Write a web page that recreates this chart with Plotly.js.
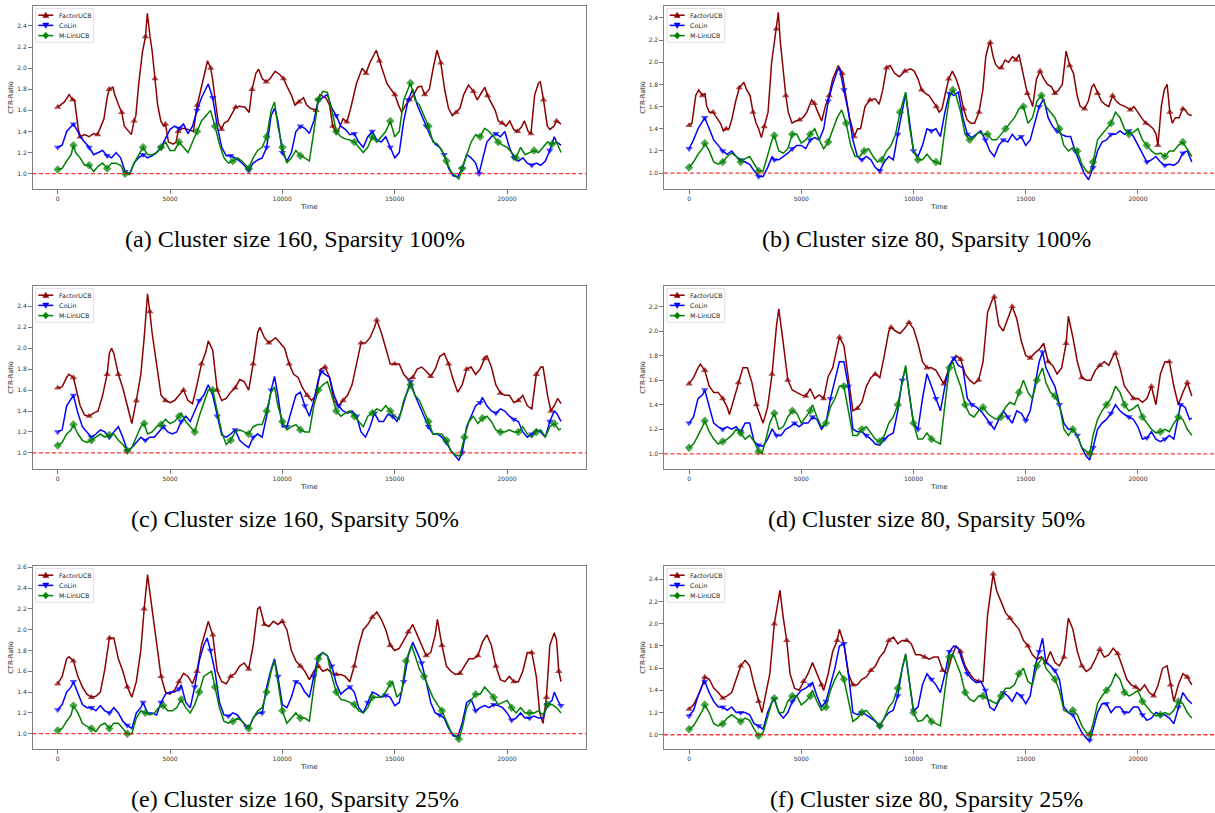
<!DOCTYPE html>
<html><head><meta charset="utf-8">
<script src="https://cdn.plot.ly/plotly-3.0.1.min.js"></script>
<style>html,body{margin:0;padding:0;background:#fff}#chart{width:1215px;height:813px}</style>
</head><body><div id="chart"></div>
<script>
const seriesNames = ['FactorUCB', 'CoLin', 'M-LinUCB'];
const captions = ['(a) Cluster size 160, Sparsity 100%', '(b) Cluster size 80, Sparsity 100%',
  '(c) Cluster size 160, Sparsity 50%', '(d) Cluster size 80, Sparsity 50%',
  '(e) Cluster size 160, Sparsity 25%', '(f) Cluster size 80, Sparsity 25%'];
const xTickVals = [0, 5000, 10000, 15000, 20000];
const xTickText = ['0', '5000', '10000', '15000', '20000'];
const xAxisTitle = 'Time';
const yAxisTitle = 'CTR-Ratio';
const baseline = 1.0;

// ---- (a) Cluster 160, Sparsity 100% ----
const aFactor = [[0,1.63],[130,1.65],[300,1.68],[510,1.75],[665,1.70],[750,1.70],[835,1.55],[920,1.42],[1000,1.35],[1200,1.37],[1400,1.35],[1600,1.38],[1775,1.37],[1945,1.45],[2060,1.52],[2200,1.72],[2290,1.80],[2460,1.82],[2540,1.75],[2710,1.65],[2850,1.58],[2970,1.45],[3140,1.40],[3280,1.37],[3400,1.50],[3480,1.55],[3600,1.84],[3770,2.15],[3910,2.30],[3990,2.52],[4110,2.30],[4200,2.17],[4330,1.90],[4450,1.65],[4590,1.50],[4730,1.45],[4800,1.47],[4930,1.30],[5140,1.28],[5270,1.30],[5360,1.40],[5550,1.43],[5800,1.42],[6040,1.40],[6210,1.65],[6380,1.80],[6550,1.95],[6670,2.07],[6810,2.00],[6890,1.90],[7010,1.70],[7150,1.48],[7290,1.42],[7410,1.48],[7580,1.50],[7750,1.57],[7920,1.63],[8090,1.64],[8340,1.63],[8520,1.58],[8650,1.80],[8820,1.95],[8940,1.99],[9110,1.90],[9280,1.87],[9450,1.90],[9680,1.97],[9880,1.94],[10050,1.90],[10220,1.82],[10390,1.75],[10560,1.65],[10740,1.68],[10940,1.72],[11080,1.65],[11250,1.62],[11500,1.60],[11670,1.75],[11930,1.72],[12100,1.65],[12240,1.45],[12410,1.38],[12530,1.43],[12700,1.52],[12870,1.49],[13040,1.62],[13290,1.85],[13550,2.00],[13720,1.95],[13890,2.05],[14060,2.12],[14180,2.17],[14320,2.07],[14450,1.98],[14660,1.85],[14830,1.80],[15000,1.75],[15170,1.65],[15310,1.58],[15480,1.65],[15650,1.70],[15850,1.75],[16020,1.82],[16190,1.83],[16330,1.75],[16540,1.80],[16710,2.00],[16880,2.17],[17050,2.05],[17220,1.80],[17390,1.62],[17560,1.55],[17730,1.58],[17900,1.62],[18070,1.75],[18280,1.84],[18500,1.78],[18670,1.70],[18840,1.76],[19010,1.82],[19130,1.74],[19270,1.68],[19470,1.60],[19610,1.50],[19780,1.48],[19950,1.45],[20120,1.50],[20290,1.42],[20460,1.40],[20630,1.44],[20770,1.50],[20940,1.40],[21060,1.38],[21230,1.75],[21400,1.86],[21480,1.87],[21620,1.70],[21790,1.45],[21910,1.42],[22080,1.45],[22200,1.50],[22400,1.47]];
const aCoLin = [[0,1.25],[200,1.27],[400,1.40],[600,1.45],[700,1.47],[900,1.40],[1000,1.35],[1200,1.30],[1400,1.25],[1600,1.18],[1800,1.20],[2000,1.22],[2200,1.17],[2400,1.15],[2600,1.20],[2800,1.15],[3000,1.02],[3200,1.00],[3400,1.10],[3600,1.15],[3800,1.18],[4000,1.15],[4200,1.17],[4400,1.20],[4600,1.25],[4800,1.33],[5000,1.42],[5200,1.45],[5400,1.43],[5600,1.47],[5800,1.38],[6000,1.45],[6200,1.60],[6400,1.72],[6600,1.80],[6700,1.85],[6900,1.72],[7100,1.45],[7300,1.25],[7500,1.17],[7700,1.17],[7900,1.15],[8100,1.12],[8300,1.08],[8500,1.03],[8700,1.10],[8900,1.13],[9100,1.15],[9300,1.25],[9500,1.55],[9650,1.62],[9800,1.50],[10000,1.20],[10200,1.12],[10400,1.20],[10600,1.40],[10800,1.45],[11000,1.43],[11200,1.38],[11400,1.50],[11600,1.70],[11800,1.72],[12000,1.75],[12200,1.62],[12400,1.55],[12600,1.45],[12800,1.42],[13000,1.37],[13200,1.38],[13400,1.30],[13600,1.25],[13800,1.35],[14000,1.40],[14200,1.32],[14400,1.30],[14600,1.35],[14800,1.25],[15000,1.15],[15200,1.20],[15400,1.50],[15600,1.70],[15800,1.80],[16000,1.65],[16200,1.55],[16400,1.45],[16600,1.35],[16800,1.28],[17000,1.25],[17200,1.18],[17400,1.05],[17600,0.98],[17800,0.97],[18000,1.05],[18200,1.18],[18400,1.15],[18600,1.10],[18750,1.00],[18900,1.12],[19100,1.30],[19300,1.35],[19500,1.38],[19700,1.35],[19900,1.40],[20100,1.25],[20300,1.15],[20500,1.12],[20700,1.15],[20900,1.10],[21100,1.08],[21300,1.10],[21500,1.08],[21700,1.12],[21900,1.22],[22100,1.35],[22200,1.30],[22400,1.27]];
const aMLin = [[0,1.04],[200,1.05],[400,1.12],[600,1.18],[700,1.27],[800,1.20],[1000,1.15],[1200,1.08],[1400,1.08],[1600,1.02],[1800,1.07],[2000,1.10],[2200,1.05],[2400,1.10],[2600,1.10],[2800,1.08],[3000,1.00],[3200,0.99],[3400,1.10],[3600,1.18],[3800,1.25],[4000,1.18],[4200,1.18],[4400,1.20],[4600,1.25],[4800,1.30],[5000,1.22],[5200,1.22],[5400,1.30],[5600,1.25],[5800,1.20],[6000,1.30],[6200,1.40],[6400,1.50],[6600,1.55],[6800,1.60],[7000,1.45],[7200,1.28],[7400,1.15],[7600,1.10],[7800,1.12],[8000,1.15],[8200,1.12],[8400,1.07],[8500,1.05],[8700,1.15],[8900,1.22],[9100,1.25],[9300,1.35],[9500,1.60],[9650,1.68],[9800,1.45],[10000,1.25],[10200,1.10],[10400,1.15],[10600,1.22],[10800,1.17],[11000,1.15],[11200,1.12],[11400,1.40],[11600,1.70],[11800,1.78],[12000,1.77],[12200,1.60],[12400,1.40],[12600,1.35],[12800,1.33],[13000,1.32],[13200,1.30],[13400,1.25],[13600,1.20],[13800,1.25],[14000,1.35],[14200,1.30],[14400,1.35],[14600,1.40],[14800,1.50],[15000,1.35],[15200,1.40],[15400,1.70],[15700,1.86],[15900,1.70],[16100,1.65],[16300,1.55],[16500,1.45],[16700,1.30],[16900,1.28],[17100,1.22],[17300,1.12],[17500,1.02],[17700,0.98],[17850,0.95],[18000,1.05],[18200,1.18],[18400,1.30],[18600,1.37],[18800,1.35],[19000,1.43],[19200,1.40],[19400,1.35],[19600,1.30],[19800,1.27],[20000,1.25],[20200,1.20],[20400,1.15],[20600,1.25],[20800,1.18],[21000,1.20],[21200,1.22],[21400,1.20],[21600,1.25],[21800,1.30],[22000,1.28],[22200,1.30],[22400,1.20]];

// ---- (b) Cluster 80, Sparsity 100% ----
const bFactor = [[0,1.43],[130,1.45],[300,1.70],[430,1.75],[590,1.70],[710,1.72],[790,1.60],[910,1.55],[1070,1.55],[1240,1.50],[1400,1.45],[1530,1.38],[1650,1.40],[1780,1.40],[1900,1.48],[2080,1.65],[2240,1.77],[2440,1.82],[2570,1.75],[2720,1.70],[2850,1.55],[2990,1.45],[3100,1.40],[3220,1.32],[3350,1.42],[3520,1.55],[3680,2.00],[3810,2.18],[3890,2.30],[3980,2.45],[4060,2.20],[4170,1.95],[4310,1.70],[4420,1.55],[4590,1.45],[4750,1.47],[4920,1.48],[5080,1.50],[5250,1.55],[5460,1.66],[5580,1.63],[5740,1.55],[5910,1.47],[6070,1.60],[6240,1.70],[6400,1.85],[6570,1.93],[6650,1.97],[6820,1.90],[6980,1.70],[7150,1.50],[7280,1.40],[7360,1.33],[7510,1.40],[7640,1.40],[7840,1.60],[8060,1.66],[8300,1.67],[8470,1.62],[8630,1.75],[8800,1.95],[8960,1.97],[9160,1.90],[9370,1.87],[9620,1.92],[9870,1.94],[10030,1.92],[10200,1.85],[10360,1.75],[10530,1.72],[10690,1.70],[10860,1.65],[11020,1.60],[11140,1.55],[11270,1.58],[11400,1.70],[11570,1.85],[11730,1.92],[11900,1.85],[12060,1.75],[12230,1.58],[12390,1.48],[12560,1.45],[12720,1.45],[12920,1.55],[13090,1.75],[13220,2.05],[13340,2.15],[13420,2.18],[13550,2.05],[13660,1.98],[13790,1.95],[13910,1.95],[14080,2.02],[14240,2.00],[14410,2.05],[14570,2.02],[14700,2.07],[14820,1.95],[14950,1.85],[15070,1.72],[15230,1.65],[15310,1.60],[15480,1.85],[15640,1.92],[15810,1.85],[15970,1.80],[16140,1.78],[16300,1.72],[16470,1.75],[16630,1.80],[16800,2.10],[16960,1.97],[17130,1.90],[17290,1.70],[17430,1.60],[17620,1.58],[17790,1.65],[17950,1.78],[18040,1.80],[18200,1.72],[18370,1.65],[18530,1.62],[18700,1.60],[18870,1.70],[19030,1.65],[19200,1.62],[19440,1.60],[19660,1.57],[19820,1.60],[19990,1.55],[20150,1.50],[20350,1.45],[20510,1.43],[20680,1.40],[20810,1.35],[20890,1.25],[21040,1.60],[21170,1.75],[21300,1.80],[21420,1.55],[21530,1.45],[21670,1.50],[21830,1.50],[22000,1.58],[22110,1.57],[22240,1.53],[22400,1.52]];
const bCoLin = [[0,1.22],[200,1.30],[400,1.40],[600,1.47],[700,1.50],[900,1.40],[1100,1.30],[1300,1.25],[1500,1.20],[1700,1.17],[1900,1.20],[2100,1.15],[2300,1.12],[2500,1.10],[2700,1.08],[2900,1.02],[3100,0.97],[3300,0.97],[3500,1.05],[3700,1.15],[3800,1.12],[4000,1.12],[4200,1.15],[4400,1.18],[4600,1.22],[4800,1.25],[5000,1.25],[5200,1.22],[5400,1.30],[5600,1.32],[5800,1.30],[6000,1.40],[6200,1.65],[6400,1.80],[6600,1.92],[6700,1.95],[6900,1.75],[7100,1.55],[7300,1.30],[7500,1.15],[7700,1.12],[7900,1.15],[8100,1.12],[8300,1.05],[8500,1.02],[8700,1.10],[8900,1.15],[9100,1.12],[9300,1.35],[9500,1.55],[9650,1.72],[9800,1.50],[10000,1.20],[10200,1.15],[10400,1.25],[10600,1.40],[10800,1.38],[11000,1.40],[11200,1.33],[11400,1.55],[11600,1.72],[11800,1.70],[12000,1.73],[12200,1.50],[12400,1.35],[12600,1.32],[12800,1.35],[13000,1.38],[13200,1.30],[13400,1.20],[13600,1.15],[13800,1.25],[14000,1.30],[14200,1.28],[14400,1.35],[14600,1.30],[14800,1.33],[15000,1.25],[15200,1.30],[15400,1.45],[15600,1.60],[15800,1.67],[16000,1.50],[16200,1.42],[16400,1.38],[16600,1.35],[16800,1.33],[17000,1.33],[17200,1.20],[17400,1.10],[17600,1.00],[17800,0.94],[18000,1.05],[18200,1.20],[18400,1.28],[18600,1.30],[18800,1.35],[19000,1.35],[19200,1.38],[19400,1.35],[19600,1.38],[19800,1.33],[20000,1.25],[20200,1.18],[20400,1.10],[20600,1.12],[20800,1.15],[21000,1.10],[21200,1.07],[21400,1.08],[21600,1.07],[21800,1.10],[22000,1.18],[22200,1.20],[22400,1.10]];
const bMLin = [[0,1.05],[200,1.10],[400,1.17],[600,1.22],[700,1.27],[900,1.20],[1100,1.10],[1300,1.08],[1500,1.10],[1700,1.15],[1900,1.18],[2100,1.15],[2300,1.10],[2500,1.13],[2700,1.15],[2900,1.08],[3100,1.02],[3300,1.02],[3500,1.15],[3700,1.30],[3800,1.34],[4000,1.20],[4200,1.18],[4400,1.22],[4600,1.35],[4800,1.35],[5000,1.27],[5200,1.30],[5400,1.35],[5600,1.40],[5800,1.30],[6000,1.22],[6200,1.28],[6400,1.40],[6600,1.50],[6800,1.57],[7000,1.45],[7200,1.25],[7400,1.15],[7600,1.15],[7800,1.20],[8000,1.22],[8200,1.15],[8400,1.10],[8600,1.12],[8800,1.20],[9000,1.25],[9200,1.35],[9400,1.55],[9650,1.73],[9800,1.45],[10000,1.20],[10200,1.12],[10400,1.12],[10600,1.17],[10800,1.12],[11000,1.10],[11200,1.08],[11400,1.40],[11600,1.68],[11750,1.75],[11900,1.70],[12100,1.55],[12300,1.35],[12500,1.30],[12700,1.32],[12900,1.37],[13100,1.35],[13300,1.35],[13500,1.30],[13700,1.30],[13900,1.35],[14100,1.40],[14300,1.45],[14500,1.50],[14700,1.58],[14900,1.60],[15100,1.45],[15300,1.50],[15500,1.65],[15700,1.70],[15900,1.60],[16100,1.55],[16300,1.50],[16500,1.40],[16700,1.25],[16900,1.20],[17100,1.23],[17300,1.20],[17500,1.08],[17700,1.02],[17850,1.00],[18000,1.10],[18200,1.30],[18400,1.35],[18600,1.40],[18800,1.45],[19000,1.55],[19200,1.50],[19400,1.40],[19600,1.35],[19800,1.37],[20000,1.40],[20200,1.30],[20400,1.25],[20600,1.20],[20800,1.17],[21000,1.18],[21200,1.15],[21400,1.20],[21600,1.20],[21800,1.25],[22000,1.28],[22200,1.22],[22400,1.15]];

// ---- (c) Cluster 160, Sparsity 50% ----
const cFactor = [[0,1.62],[200,1.63],[400,1.72],[500,1.75],[700,1.72],[900,1.55],[1000,1.45],[1200,1.36],[1400,1.35],[1600,1.38],[1800,1.40],[2000,1.55],[2200,1.75],[2300,1.95],[2400,2.00],[2500,1.95],[2700,1.75],[2900,1.62],[3100,1.45],[3300,1.28],[3500,1.50],[3700,1.75],[3850,2.10],[4000,2.52],[4100,2.35],[4200,2.15],[4400,1.85],[4600,1.55],[4800,1.50],[5000,1.48],[5200,1.50],[5400,1.55],[5600,1.60],[5800,1.50],[6000,1.47],[6200,1.65],[6400,1.85],[6600,1.97],[6700,2.07],[6900,1.98],[7100,1.60],[7300,1.50],[7500,1.52],[7700,1.58],[7900,1.62],[8100,1.70],[8300,1.68],[8500,1.60],[8700,1.85],[8900,2.15],[9000,2.20],[9200,2.10],[9400,2.05],[9700,2.10],[9900,2.05],[10100,2.00],[10300,1.85],[10500,1.75],[10700,1.72],[10900,1.62],[11100,1.55],[11300,1.50],[11500,1.55],[11700,1.80],[11900,1.82],[12100,1.72],[12300,1.50],[12500,1.45],[12700,1.50],[12900,1.55],[13100,1.65],[13300,1.85],[13500,2.05],[13700,2.05],[13900,2.10],[14100,2.20],[14200,2.27],[14400,2.15],[14600,2.00],[14800,1.85],[15000,1.85],[15200,1.85],[15400,1.75],[15600,1.70],[15800,1.72],[16000,1.80],[16200,1.82],[16400,1.78],[16600,1.73],[16800,1.80],[17000,1.92],[17200,1.95],[17400,1.85],[17600,1.70],[17800,1.58],[18000,1.65],[18200,1.80],[18400,1.82],[18600,1.75],[18800,1.80],[19000,1.90],[19100,1.93],[19300,1.82],[19500,1.65],[19700,1.57],[19900,1.55],[20100,1.55],[20300,1.48],[20500,1.50],[20700,1.55],[20900,1.45],[21100,1.42],[21300,1.75],[21500,1.82],[21600,1.82],[21800,1.55],[21950,1.40],[22100,1.45],[22250,1.52],[22400,1.47]];
const cCoLin = [[0,1.20],[200,1.22],[400,1.45],[600,1.52],[700,1.55],[900,1.38],[1100,1.25],[1300,1.20],[1500,1.15],[1700,1.18],[1900,1.22],[2100,1.20],[2300,1.15],[2500,1.20],[2700,1.25],[2900,1.15],[3100,1.02],[3300,1.05],[3500,1.10],[3700,1.15],[3900,1.12],[4100,1.15],[4300,1.15],[4500,1.20],[4700,1.25],[4900,1.20],[5100,1.18],[5300,1.20],[5500,1.30],[5700,1.35],[5900,1.30],[6100,1.40],[6300,1.50],[6500,1.55],[6700,1.65],[6900,1.55],[7100,1.35],[7300,1.17],[7500,1.15],[7700,1.18],[7900,1.22],[8100,1.12],[8300,1.08],[8500,1.05],[8700,1.15],[8900,1.18],[9100,1.15],[9300,1.35],[9500,1.60],[9650,1.73],[9800,1.55],[10000,1.25],[10200,1.25],[10400,1.40],[10600,1.55],[10800,1.58],[11000,1.45],[11200,1.35],[11400,1.50],[11600,1.70],[11750,1.78],[11900,1.75],[12100,1.72],[12300,1.55],[12500,1.45],[12700,1.40],[12900,1.38],[13100,1.40],[13300,1.35],[13500,1.20],[13700,1.15],[13900,1.25],[14100,1.38],[14300,1.30],[14500,1.30],[14700,1.37],[14900,1.35],[15100,1.30],[15300,1.40],[15500,1.55],[15700,1.68],[15900,1.55],[16100,1.45],[16300,1.35],[16500,1.25],[16700,1.18],[16900,1.18],[17100,1.15],[17300,1.10],[17500,1.02],[17700,0.97],[17850,0.93],[18000,1.00],[18200,1.25],[18400,1.35],[18600,1.45],[18800,1.48],[18900,1.53],[19100,1.45],[19300,1.40],[19500,1.38],[19700,1.42],[19900,1.40],[20100,1.35],[20300,1.32],[20500,1.30],[20700,1.20],[20900,1.15],[21100,1.18],[21300,1.22],[21500,1.20],[21700,1.15],[21900,1.30],[22100,1.40],[22200,1.38],[22400,1.30]];
const cMLin = [[0,1.07],[200,1.10],[400,1.18],[600,1.22],[700,1.27],[900,1.18],[1100,1.12],[1300,1.10],[1500,1.12],[1700,1.15],[1900,1.18],[2100,1.15],[2300,1.17],[2500,1.18],[2700,1.12],[2900,1.08],[3100,1.02],[3300,1.05],[3500,1.15],[3700,1.25],[3850,1.28],[4000,1.18],[4200,1.20],[4400,1.25],[4600,1.27],[4800,1.32],[5000,1.28],[5200,1.30],[5400,1.35],[5500,1.38],[5700,1.30],[5900,1.25],[6100,1.20],[6300,1.35],[6500,1.48],[6700,1.60],[6900,1.60],[7100,1.40],[7300,1.20],[7500,1.08],[7700,1.12],[7900,1.20],[8100,1.22],[8300,1.20],[8500,1.18],[8700,1.25],[8900,1.27],[9100,1.27],[9300,1.40],[9500,1.58],[9650,1.63],[9800,1.45],[10000,1.30],[10200,1.22],[10400,1.25],[10600,1.27],[10800,1.22],[11000,1.20],[11200,1.20],[11400,1.45],[11600,1.60],[11800,1.65],[12000,1.68],[12200,1.55],[12400,1.40],[12600,1.35],[12800,1.38],[13000,1.40],[13200,1.35],[13400,1.30],[13600,1.25],[13800,1.35],[14000,1.38],[14200,1.42],[14400,1.40],[14600,1.45],[14800,1.40],[15000,1.35],[15200,1.32],[15400,1.50],[15700,1.65],[15900,1.55],[16100,1.50],[16300,1.40],[16500,1.30],[16700,1.18],[16900,1.18],[17100,1.18],[17300,1.12],[17500,1.02],[17700,0.98],[17900,0.97],[18100,1.15],[18300,1.30],[18500,1.35],[18700,1.28],[18900,1.33],[19100,1.35],[19300,1.30],[19500,1.22],[19700,1.20],[19900,1.20],[20100,1.22],[20300,1.20],[20500,1.20],[20700,1.25],[20900,1.18],[21100,1.15],[21300,1.20],[21500,1.22],[21700,1.15],[21900,1.25],[22100,1.28],[22300,1.22],[22400,1.23]];

// ---- (d) Cluster 80, Sparsity 50% ----
const dFactor = [[0,1.57],[200,1.62],[400,1.70],[500,1.73],[700,1.68],[900,1.55],[1100,1.50],[1300,1.50],[1500,1.45],[1700,1.38],[1800,1.32],[2000,1.45],[2200,1.58],[2400,1.70],[2600,1.70],[2800,1.58],[3000,1.40],[3200,1.30],[3300,1.25],[3500,1.38],[3700,1.65],[3900,2.05],[4000,2.18],[4200,1.90],[4400,1.60],[4600,1.52],[4800,1.50],[5000,1.48],[5200,1.47],[5400,1.53],[5600,1.45],[5800,1.48],[6000,1.45],[6200,1.63],[6400,1.70],[6600,1.85],[6700,1.95],[6900,1.88],[7100,1.60],[7300,1.35],[7500,1.37],[7700,1.42],[7900,1.55],[8100,1.62],[8300,1.65],[8500,1.62],[8700,1.80],[8900,2.00],[9000,2.03],[9200,2.00],[9400,1.98],[9600,2.02],[9800,2.07],[10000,2.02],[10200,1.90],[10400,1.75],[10600,1.70],[10800,1.70],[11000,1.68],[11200,1.62],[11350,1.57],[11500,1.65],[11700,1.75],[11900,1.80],[12100,1.77],[12300,1.65],[12500,1.60],[12700,1.57],[12900,1.60],[13100,1.75],[13300,2.15],[13500,2.25],[13600,2.28],[13800,2.05],[14000,2.00],[14200,2.10],[14400,2.20],[14600,2.10],[14800,1.92],[15000,1.80],[15200,1.78],[15400,1.82],[15600,1.85],[15800,1.90],[16000,1.75],[16200,1.72],[16400,1.65],[16600,1.70],[16800,1.90],[16900,2.12],[17100,1.95],[17300,1.75],[17500,1.62],[17700,1.60],[17900,1.60],[18100,1.68],[18300,1.72],[18500,1.75],[18700,1.72],[18900,1.80],[19000,1.82],[19200,1.70],[19400,1.55],[19600,1.50],[19800,1.45],[20000,1.45],[20200,1.42],[20400,1.45],[20600,1.55],[20800,1.40],[21000,1.65],[21200,1.75],[21400,1.75],[21600,1.55],[21800,1.40],[22000,1.50],[22200,1.58],[22400,1.47]];
const dCoLin = [[0,1.25],[200,1.30],[400,1.45],[600,1.48],[700,1.52],[900,1.38],[1100,1.25],[1300,1.22],[1500,1.20],[1700,1.22],[1900,1.20],[2100,1.22],[2300,1.18],[2500,1.25],[2700,1.25],[2900,1.10],[3100,1.07],[3300,1.06],[3500,1.12],[3700,1.20],[3900,1.15],[4100,1.15],[4300,1.20],[4500,1.22],[4700,1.25],[4900,1.22],[5100,1.25],[5300,1.25],[5500,1.30],[5700,1.28],[5900,1.20],[6100,1.25],[6300,1.45],[6500,1.60],[6700,1.75],[6900,1.75],[7100,1.55],[7300,1.20],[7500,1.18],[7700,1.18],[7900,1.15],[8100,1.12],[8300,1.08],[8500,1.07],[8700,1.12],[8900,1.15],[9100,1.17],[9300,1.35],[9500,1.60],[9650,1.70],[9800,1.50],[10000,1.25],[10200,1.20],[10400,1.45],[10600,1.65],[10800,1.55],[11000,1.45],[11200,1.35],[11400,1.55],[11600,1.72],[11800,1.78],[12000,1.72],[12200,1.70],[12400,1.45],[12600,1.40],[12800,1.38],[13000,1.35],[13200,1.30],[13400,1.25],[13600,1.20],[13800,1.28],[14000,1.35],[14200,1.30],[14400,1.25],[14600,1.35],[14800,1.33],[15000,1.27],[15200,1.35],[15400,1.55],[15600,1.75],[15750,1.83],[15900,1.70],[16100,1.62],[16300,1.55],[16500,1.40],[16700,1.25],[16900,1.20],[17100,1.20],[17300,1.15],[17500,1.05],[17700,0.98],[17850,0.95],[18000,1.05],[18200,1.20],[18400,1.25],[18600,1.28],[18800,1.33],[19000,1.40],[19200,1.35],[19400,1.32],[19600,1.30],[19800,1.28],[20000,1.22],[20200,1.12],[20400,1.13],[20600,1.18],[20800,1.12],[21000,1.10],[21200,1.12],[21400,1.15],[21600,1.12],[21800,1.30],[21900,1.40],[22100,1.38],[22300,1.28],[22400,1.29]];
const dMLin = [[0,1.05],[200,1.08],[400,1.15],[600,1.22],[700,1.27],[900,1.18],[1100,1.12],[1300,1.08],[1500,1.10],[1700,1.12],[1900,1.15],[2100,1.20],[2300,1.17],[2500,1.12],[2700,1.15],[2900,1.10],[3100,1.02],[3250,1.00],[3400,1.10],[3600,1.25],[3800,1.33],[4000,1.20],[4200,1.22],[4400,1.30],[4600,1.35],[4800,1.33],[5000,1.25],[5200,1.30],[5400,1.35],[5500,1.40],[5700,1.30],[5900,1.22],[6100,1.25],[6300,1.38],[6500,1.45],[6700,1.55],[6900,1.55],[7100,1.35],[7300,1.15],[7500,1.15],[7700,1.20],[7900,1.22],[8100,1.17],[8300,1.12],[8500,1.10],[8700,1.15],[8900,1.25],[9100,1.30],[9300,1.40],[9500,1.60],[9650,1.72],[9800,1.50],[10000,1.25],[10200,1.12],[10400,1.12],[10600,1.17],[10800,1.12],[11000,1.10],[11200,1.08],[11400,1.40],[11600,1.70],[11750,1.75],[11900,1.65],[12100,1.55],[12300,1.40],[12500,1.32],[12700,1.30],[12900,1.35],[13100,1.38],[13300,1.33],[13500,1.30],[13700,1.28],[13900,1.30],[14100,1.38],[14300,1.42],[14500,1.40],[14700,1.50],[14900,1.60],[15100,1.50],[15300,1.45],[15500,1.60],[15750,1.70],[15900,1.58],[16100,1.50],[16300,1.47],[16500,1.40],[16700,1.20],[16900,1.15],[17100,1.20],[17300,1.15],[17500,1.05],[17700,1.02],[17850,1.00],[18000,1.15],[18200,1.28],[18400,1.35],[18600,1.40],[18800,1.45],[19000,1.55],[19200,1.50],[19400,1.40],[19600,1.35],[19800,1.37],[20000,1.40],[20200,1.30],[20400,1.25],[20600,1.20],[20800,1.17],[21000,1.18],[21200,1.20],[21400,1.18],[21600,1.25],[21800,1.30],[22000,1.28],[22200,1.20],[22400,1.15]];

// ---- (e) Cluster 160, Sparsity 25% ----
const eFactor = [[0,1.48],[200,1.55],[400,1.72],[500,1.74],[700,1.70],[900,1.55],[1100,1.45],[1300,1.38],[1500,1.35],[1700,1.36],[1900,1.40],[2100,1.62],[2300,1.92],[2500,1.92],[2700,1.72],[2900,1.60],[3100,1.45],[3300,1.35],[3500,1.50],[3700,1.80],[3850,2.20],[4000,2.53],[4200,2.20],[4400,1.85],[4600,1.55],[4800,1.40],[5000,1.38],[5200,1.42],[5400,1.50],[5600,1.58],[5800,1.55],[6000,1.48],[6200,1.60],[6400,1.85],[6600,2.00],[6700,2.08],[6900,1.95],[7100,1.60],[7300,1.50],[7500,1.48],[7700,1.55],[7900,1.58],[8100,1.65],[8300,1.68],[8500,1.62],[8700,1.85],[8900,2.20],[9000,2.22],[9200,2.05],[9400,2.03],[9600,2.08],[9800,2.05],[10000,2.08],[10200,2.00],[10400,1.80],[10600,1.70],[10800,1.65],[11000,1.60],[11200,1.52],[11400,1.60],[11600,1.65],[11800,1.60],[12000,1.62],[12200,1.58],[12400,1.57],[12600,1.57],[12800,1.55],[13000,1.50],[13200,1.65],[13400,1.85],[13600,2.00],[13800,2.05],[14000,2.12],[14200,2.17],[14400,2.10],[14600,2.00],[14800,1.85],[15000,1.80],[15200,1.82],[15400,1.90],[15600,1.98],[15800,2.05],[16000,1.95],[16200,1.85],[16400,1.75],[16600,1.78],[16800,1.95],[16900,2.10],[17100,1.85],[17300,1.65],[17500,1.60],[17700,1.57],[17900,1.58],[18100,1.65],[18300,1.72],[18500,1.72],[18700,1.75],[18900,1.88],[19100,1.95],[19300,1.85],[19500,1.65],[19700,1.52],[19900,1.50],[20100,1.55],[20300,1.50],[20500,1.50],[20700,1.60],[20900,1.78],[21100,1.78],[21300,1.55],[21450,1.20],[21600,1.10],[21750,1.35],[21900,1.85],[22100,1.97],[22200,1.90],[22300,1.60],[22400,1.50]];
const eCoLin = [[0,1.23],[200,1.28],[400,1.40],[600,1.45],[700,1.50],[900,1.38],[1100,1.28],[1300,1.25],[1500,1.25],[1700,1.22],[1900,1.27],[2100,1.22],[2300,1.20],[2500,1.25],[2700,1.20],[2900,1.12],[3100,1.08],[3300,1.05],[3500,1.20],[3700,1.25],[3800,1.30],[4000,1.20],[4200,1.20],[4400,1.18],[4600,1.30],[4800,1.38],[5000,1.40],[5200,1.40],[5400,1.43],[5500,1.47],[5700,1.30],[5900,1.25],[6100,1.45],[6300,1.70],[6500,1.85],[6650,1.92],[6800,1.80],[7000,1.60],[7200,1.30],[7400,1.18],[7600,1.17],[7800,1.20],[8000,1.18],[8200,1.12],[8400,1.07],[8500,1.05],[8700,1.15],[8900,1.20],[9100,1.20],[9300,1.45],[9500,1.62],[9650,1.72],[9800,1.55],[10000,1.28],[10200,1.25],[10400,1.35],[10600,1.50],[10800,1.48],[11000,1.40],[11200,1.35],[11400,1.55],[11600,1.75],[11800,1.78],[12000,1.75],[12200,1.65],[12400,1.48],[12600,1.38],[12800,1.42],[13000,1.45],[13200,1.40],[13400,1.25],[13600,1.20],[13800,1.30],[14000,1.40],[14200,1.38],[14400,1.35],[14600,1.37],[14800,1.35],[15000,1.27],[15200,1.30],[15400,1.50],[15600,1.75],[15800,1.88],[16000,1.78],[16200,1.68],[16400,1.50],[16600,1.30],[16800,1.20],[17000,1.18],[17200,1.15],[17400,1.05],[17600,0.98],[17800,0.97],[18000,1.10],[18200,1.30],[18400,1.33],[18600,1.22],[18800,1.25],[19000,1.27],[19200,1.25],[19400,1.28],[19600,1.27],[19800,1.25],[20000,1.20],[20200,1.13],[20400,1.15],[20600,1.20],[20800,1.15],[21000,1.15],[21200,1.17],[21400,1.15],[21600,1.15],[21800,1.28],[22000,1.32],[22100,1.40],[22300,1.30],[22400,1.27]];
const eMLin = [[0,1.03],[200,1.05],[400,1.12],[600,1.18],[700,1.27],[900,1.20],[1100,1.10],[1300,1.07],[1500,1.05],[1700,1.02],[1900,1.08],[2100,1.10],[2300,1.05],[2500,1.10],[2700,1.10],[2900,1.05],[3100,1.00],[3300,1.00],[3500,1.15],[3700,1.22],[3900,1.20],[4100,1.18],[4300,1.20],[4500,1.25],[4700,1.27],[4900,1.22],[5100,1.22],[5300,1.25],[5500,1.33],[5700,1.25],[5900,1.20],[6100,1.28],[6300,1.40],[6500,1.55],[6700,1.58],[6850,1.60],[7000,1.45],[7200,1.25],[7400,1.12],[7600,1.10],[7800,1.12],[8000,1.15],[8200,1.12],[8400,1.07],[8500,1.05],[8700,1.15],[8900,1.22],[9100,1.25],[9300,1.40],[9500,1.60],[9650,1.70],[9800,1.50],[10000,1.22],[10200,1.10],[10400,1.15],[10600,1.20],[10800,1.15],[11000,1.15],[11200,1.12],[11400,1.45],[11600,1.72],[11800,1.78],[12000,1.75],[12200,1.55],[12400,1.40],[12600,1.33],[12800,1.32],[13000,1.30],[13200,1.28],[13400,1.22],[13600,1.20],[13800,1.25],[14000,1.35],[14200,1.35],[14400,1.35],[14600,1.40],[14800,1.48],[14900,1.50],[15100,1.35],[15300,1.40],[15500,1.70],[15750,1.85],[15900,1.75],[16100,1.62],[16300,1.55],[16500,1.45],[16700,1.35],[16900,1.28],[17100,1.22],[17300,1.12],[17500,1.02],[17700,0.98],[17850,0.95],[18000,1.05],[18200,1.25],[18400,1.32],[18600,1.38],[18800,1.38],[19000,1.45],[19200,1.40],[19400,1.35],[19600,1.28],[19800,1.30],[20000,1.32],[20200,1.25],[20400,1.20],[20600,1.25],[20800,1.20],[21000,1.20],[21200,1.20],[21400,1.22],[21600,1.18],[21800,1.28],[22000,1.28],[22200,1.25],[22400,1.20]];

// ---- (f) Cluster 80, Sparsity 25% ----
const fFactor = [[0,1.23],[200,1.27],[400,1.35],[600,1.45],[700,1.52],[900,1.50],[1100,1.42],[1300,1.38],[1500,1.33],[1700,1.35],[1900,1.38],[2100,1.50],[2300,1.62],[2500,1.67],[2700,1.62],[2900,1.45],[3100,1.30],[3250,1.20],[3400,1.35],[3600,1.55],[3800,2.00],[3950,2.18],[4050,2.30],[4200,2.05],[4350,1.85],[4500,1.55],[4700,1.42],[4900,1.40],[5100,1.48],[5300,1.55],[5500,1.65],[5700,1.55],[5900,1.45],[6000,1.40],[6200,1.55],[6400,1.75],[6600,1.85],[6700,1.95],[6900,1.82],[7100,1.55],[7300,1.45],[7500,1.45],[7700,1.50],[7900,1.52],[8100,1.58],[8300,1.62],[8500,1.70],[8700,1.75],[8900,1.85],[9100,1.88],[9300,1.82],[9500,1.85],[9700,1.85],[9900,1.82],[10100,1.72],[10300,1.72],[10500,1.70],[10700,1.68],[10900,1.70],[11100,1.70],[11300,1.58],[11500,1.55],[11700,1.70],[11900,1.80],[12100,1.75],[12300,1.62],[12500,1.55],[12700,1.50],[12900,1.48],[13100,1.48],[13300,2.08],[13450,2.30],[13550,2.45],[13700,2.30],[13900,2.20],[14100,2.10],[14300,2.05],[14500,2.00],[14700,1.95],[14900,1.85],[15100,1.80],[15300,1.72],[15500,1.68],[15700,1.70],[15900,1.65],[16100,1.75],[16300,1.65],[16500,1.62],[16700,1.70],[16900,2.05],[17100,1.95],[17300,1.75],[17500,1.62],[17700,1.57],[17900,1.60],[18100,1.68],[18300,1.77],[18500,1.70],[18700,1.72],[18900,1.78],[19100,1.73],[19300,1.62],[19500,1.50],[19700,1.45],[19900,1.43],[20100,1.40],[20300,1.45],[20500,1.38],[20700,1.35],[20900,1.45],[21100,1.60],[21300,1.62],[21450,1.45],[21600,1.30],[21800,1.45],[22000,1.55],[22200,1.52],[22400,1.45]];
const fCoLin = [[0,1.17],[200,1.22],[400,1.35],[600,1.45],[700,1.48],[900,1.38],[1100,1.30],[1300,1.25],[1500,1.25],[1700,1.22],[1900,1.25],[2100,1.20],[2300,1.20],[2500,1.20],[2700,1.18],[2900,1.10],[3100,1.08],[3300,1.05],[3500,1.20],[3700,1.30],[3800,1.32],[4000,1.20],[4200,1.15],[4400,1.20],[4600,1.30],[4800,1.35],[5000,1.40],[5200,1.42],[5400,1.45],[5500,1.47],[5700,1.35],[5900,1.25],[6100,1.30],[6300,1.45],[6500,1.60],[6700,1.80],[6900,1.82],[7100,1.55],[7300,1.20],[7500,1.18],[7700,1.20],[7900,1.18],[8100,1.15],[8300,1.12],[8500,1.08],[8700,1.15],[8900,1.20],[9100,1.22],[9300,1.35],[9500,1.60],[9650,1.72],[9800,1.50],[10000,1.22],[10200,1.25],[10400,1.45],[10600,1.55],[10800,1.50],[11000,1.45],[11200,1.38],[11400,1.55],[11600,1.75],[11800,1.80],[12000,1.78],[12200,1.65],[12400,1.55],[12600,1.50],[12800,1.47],[13000,1.48],[13200,1.40],[13400,1.25],[13600,1.22],[13800,1.30],[14000,1.38],[14200,1.35],[14400,1.30],[14600,1.38],[14800,1.35],[15000,1.28],[15200,1.35],[15400,1.60],[15600,1.75],[15750,1.87],[15900,1.65],[16100,1.62],[16300,1.58],[16500,1.50],[16700,1.25],[16900,1.20],[17100,1.18],[17300,1.10],[17500,1.02],[17700,0.97],[17850,0.95],[18000,1.05],[18200,1.20],[18400,1.28],[18600,1.28],[18800,1.20],[19000,1.25],[19200,1.25],[19400,1.20],[19600,1.20],[19800,1.25],[20000,1.25],[20200,1.18],[20400,1.13],[20600,1.15],[20800,1.20],[21000,1.18],[21200,1.18],[21400,1.15],[21600,1.10],[21800,1.25],[22000,1.38],[22200,1.32],[22400,1.28]];
const fMLin = [[0,1.05],[200,1.08],[400,1.15],[600,1.22],[700,1.27],[900,1.20],[1100,1.10],[1300,1.08],[1500,1.10],[1700,1.15],[1900,1.18],[2100,1.15],[2300,1.12],[2500,1.15],[2700,1.13],[2900,1.05],[3100,0.99],[3300,1.02],[3500,1.15],[3700,1.30],[3800,1.33],[4000,1.20],[4200,1.20],[4400,1.30],[4600,1.35],[4800,1.35],[5000,1.27],[5200,1.30],[5400,1.35],[5500,1.40],[5700,1.30],[5900,1.22],[6100,1.25],[6300,1.40],[6500,1.50],[6700,1.57],[6900,1.50],[7100,1.30],[7300,1.12],[7500,1.15],[7700,1.20],[7900,1.22],[8100,1.17],[8300,1.12],[8500,1.08],[8700,1.15],[8900,1.25],[9100,1.30],[9300,1.42],[9500,1.60],[9650,1.73],[9800,1.50],[10000,1.20],[10200,1.12],[10400,1.13],[10600,1.18],[10800,1.12],[11000,1.10],[11200,1.08],[11400,1.40],[11600,1.70],[11750,1.73],[11900,1.65],[12100,1.55],[12300,1.38],[12500,1.32],[12700,1.30],[12900,1.35],[13100,1.35],[13300,1.32],[13500,1.30],[13700,1.28],[13900,1.35],[14100,1.42],[14300,1.42],[14500,1.45],[14700,1.55],[14900,1.60],[15100,1.48],[15300,1.45],[15500,1.62],[15750,1.70],[15900,1.60],[16100,1.55],[16300,1.50],[16500,1.40],[16700,1.22],[16900,1.20],[17100,1.22],[17300,1.18],[17500,1.08],[17700,1.02],[17850,1.00],[18000,1.10],[18200,1.28],[18400,1.35],[18600,1.40],[18800,1.45],[19000,1.55],[19200,1.50],[19400,1.38],[19600,1.35],[19800,1.37],[20000,1.40],[20200,1.30],[20400,1.25],[20600,1.20],[20800,1.17],[21000,1.18],[21200,1.20],[21400,1.18],[21600,1.22],[21800,1.30],[22000,1.28],[22200,1.20],[22400,1.15]];

const panelData = [
  [aFactor, aCoLin, aMLin], [bFactor, bCoLin, bMLin],
  [cFactor, cCoLin, cMLin], [dFactor, dCoLin, dMLin],
  [eFactor, eCoLin, eMLin], [fFactor, fCoLin, fMLin]
];
const yRanges = [[0.852, 2.592], [0.854, 2.51], [0.843, 2.597], [0.874, 2.369], [0.85, 2.615], [0.869, 2.523]];

// ---- geometry / style ----
const W = 1215, H = 813;
const colL = [32.5, 663.9], colR = [586.2, 1215];
const xRanges = [[-1120, 23520], [-1120, 23433]];
const rowT = [5.7, 285.7, 565.7], plotH = 183.6;
const colors = ['#8b0000', '#0000ff', '#008000'];
const symbols = ['triangle-up', 'triangle-down', 'diamond'];
const msize = [6.5, 6.5, 6.5];
const legPaths = ['M-3,-2.4 L3,-2.4 L0,3 Z', 'M-3,2.4 L3,2.4 L0,-3 Z', 'M0,3.3 L3,0 L0,-3.3 L-3,0 Z'];
const capCenter = [295, 926];
const tickFont = {family: 'DejaVu Sans', size: 6, color: '#333'};
const titleFont = {family: 'DejaVu Sans', size: 6.7, color: '#222'};

const traces = [];
const layout = {
  width: W, height: H, margin: {l: 0, r: 0, t: 0, b: 0},
  paper_bgcolor: '#fff', plot_bgcolor: '#fff', showlegend: false,
  shapes: [], annotations: []
};
const px = v => v / W, py = v => 1 - v / H;

for (let i = 0; i < 6; i++) {
  const c = i % 2, r = Math.floor(i / 2);
  const id = i === 0 ? '' : String(i + 1);
  const L = colL[c], T = rowT[r];
  layout['xaxis' + id] = {
    domain: [px(colL[c]), px(colR[c])], range: xRanges[c], anchor: 'y' + id,
    tickmode: 'array', tickvals: xTickVals, ticktext: xTickText,
    showline: true, mirror: true, linecolor: '#808080', linewidth: 1,
    ticks: 'outside', ticklen: 3.5, tickwidth: 0.8, tickcolor: '#555',
    showgrid: false, zeroline: false, tickfont: tickFont,
    title: {text: xAxisTitle, font: titleFont, standoff: 3}
  };
  layout['yaxis' + id] = {
    domain: [py(T + plotH), py(T)], range: yRanges[i], anchor: 'x' + id,
    tick0: 0, dtick: 0.2, tickformat: '.1f',
    showline: true, mirror: true, linecolor: '#808080', linewidth: 1,
    ticks: 'outside', ticklen: 3.5, tickwidth: 0.8, tickcolor: '#555',
    showgrid: false, zeroline: false, tickfont: tickFont,
    title: {text: yAxisTitle, font: titleFont, standoff: 2}
  };
  panelData[i].forEach((pts, s) => {
    traces.push({
      type: 'scatter', mode: 'lines+markers', name: seriesNames[s],
      x: pts.map(p => p[0]), y: pts.map(p => p[1]),
      xaxis: 'x' + id, yaxis: 'y' + id, hoverinfo: 'skip',
      line: {color: colors[s], width: 1.5},
      marker: {symbol: symbols[s], color: colors[s], size: pts.map((p, k) => (k % 4 === 0 ? msize[s] : 0)), line: {width: 0}}
    });
  });
  // baseline
  layout.shapes.push({type: 'line', xref: 'x' + id + ' domain', yref: 'y' + id, x0: 0, x1: 1, y0: baseline, y1: baseline,
    line: {color: 'rgba(255,0,0,0.8)', width: 1.3, dash: '4px,2.5px'}, layer: 'above'});
  // legend box
  layout.shapes.push({type: 'rect', xref: 'paper', yref: 'paper', x0: px(L + 3.2), x1: px(L + 60.8), y0: py(T + 2.6), y1: py(T + 36.6),
    fillcolor: 'rgba(255,255,255,0.85)', line: {color: '#d4d4d4', width: 0.8}, layer: 'above'});
  const ey = [9.5, 19.7, 29.9];
  for (let s = 0; s < 3; s++) {
    layout.shapes.push({type: 'line', xref: 'paper', yref: 'paper', x0: px(L + 5.8), x1: px(L + 20.8), y0: py(T + ey[s]), y1: py(T + ey[s]),
      line: {color: colors[s], width: 1.5}, layer: 'above'});
    layout.shapes.push({type: 'path', xref: 'paper', yref: 'paper', xsizemode: 'pixel', ysizemode: 'pixel',
      xanchor: px(L + 13.3), yanchor: py(T + ey[s]), path: legPaths[s], fillcolor: colors[s], line: {color: colors[s], width: 0.5}, layer: 'above'});
    layout.annotations.push({xref: 'paper', yref: 'paper', x: px(L + 24), y: py(T + ey[s]), xanchor: 'left', yanchor: 'middle',
      text: seriesNames[s], showarrow: false, font: {family: 'DejaVu Sans', size: 6.3, color: '#222'}});
  }
  // caption
  layout.annotations.push({xref: 'paper', yref: 'paper', x: px(capCenter[c]), y: py(T + 233.3), xanchor: 'center', yanchor: 'middle',
    text: captions[i], showarrow: false, font: {family: 'Liberation Serif', size: 24, color: '#000'}});
}

Plotly.newPlot('chart', traces, layout, {displayModeBar: false, staticPlot: true});
</script>
</body></html>
